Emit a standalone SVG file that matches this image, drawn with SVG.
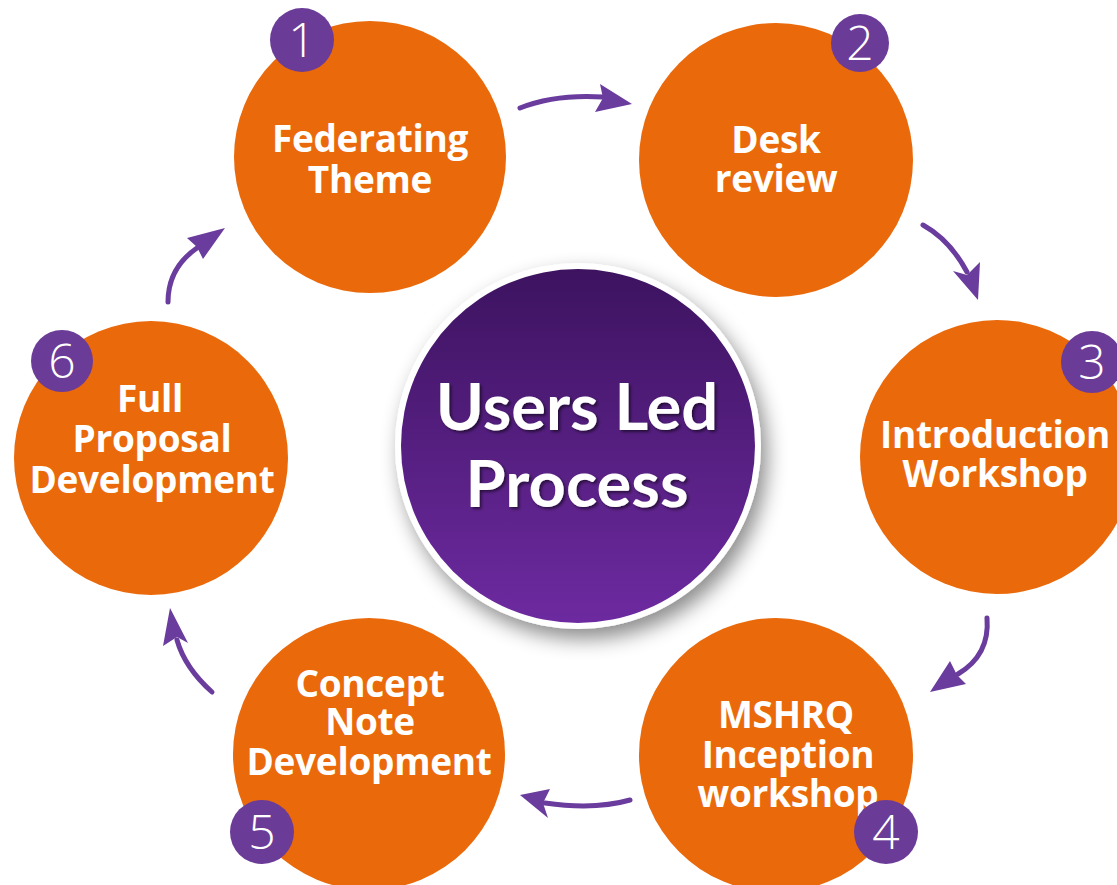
<svg xmlns="http://www.w3.org/2000/svg" width="1117" height="885" viewBox="0 0 1117 885">
  <style>
    .step { fill: #ea690b; }
    .badge { fill: #6b3b98; }
    .num { font-family: "Open Sans", "Noto Sans", sans-serif; font-weight: 300; font-size: 48px; fill: #ffffff; text-anchor: middle; }
    .label { font-family: "Open Sans", "Noto Sans", sans-serif; font-weight: 700; font-size: 37px; fill: #ffffff; text-anchor: middle; letter-spacing: -0.3px; }
    .title { font-family: Lato, "Open Sans", sans-serif; font-weight: 700; font-size: 65px; fill: #ffffff; text-anchor: middle; }
    .shaft { fill: none; stroke: #6a3c9d; stroke-width: 5; stroke-linecap: round; }
    .head { fill: #6a3c9d; }
  </style>
  <defs>
    <linearGradient id="hubFill" x1="0" y1="0" x2="0" y2="1">
      <stop offset="0" stop-color="#3d1360"/>
      <stop offset="1" stop-color="#6d2aa0"/>
    </linearGradient>
    <filter id="hubShadow" x="-30%" y="-30%" width="160%" height="160%">
      <feDropShadow dx="6" dy="10" stdDeviation="10" flood-color="#000000" flood-opacity="0.45"/>
    </filter>
    <filter id="textShadow" x="-10%" y="-20%" width="120%" height="140%">
      <feDropShadow dx="2" dy="2" stdDeviation="1.5" flood-color="#000000" flood-opacity="0.55"/>
    </filter>
  </defs>

  <rect width="1117" height="885" fill="#ffffff"/>

  <!-- connectors between the steps -->
  <g id="connectors">
    <!-- 1 to 2 -->
    <path class="shaft" d="M520,108 Q555,94 603,97"/>
    <polygon class="head" points="632,104 595,112 603,98 600,84"/>
    <!-- 2 to 3 -->
    <path class="shaft" d="M923,225 Q950,240 967,272"/>
    <polygon class="head" points="978,300 953,271 967,275 980,262"/>
    <!-- 3 to 4 -->
    <path class="shaft" d="M987,618 Q990,655 958,674"/>
    <polygon class="head" points="930,692 950,661 957,675 966,684"/>
    <!-- 4 to 5 -->
    <path class="shaft" d="M630,800 Q595,810 545,803"/>
    <polygon class="head" points="520,795 550,789 543,803 548,818"/>
    <!-- 5 to 6 -->
    <path class="shaft" d="M212,692 Q185,668 177,640"/>
    <polygon class="head" points="170,608 188,643 177,637 163,646"/>
    <!-- 6 to 1 -->
    <path class="shaft" d="M168,302 Q168,268 197,248"/>
    <polygon class="head" points="225,228 203,259 197,247 187,238"/>
  </g>

  <!-- central hub -->
  <g id="hub">
    <circle cx="578" cy="446" r="183" fill="#ffffff" filter="url(#hubShadow)"/>
    <circle cx="578" cy="446" r="177" fill="url(#hubFill)"/>
    <text class="title" filter="url(#textShadow)" x="577" y="430">Users Led<tspan x="577" dy="77">Process</tspan></text>
  </g>

  <g id="step1">
    <circle class="step" cx="370" cy="157" r="136"/>
    <text class="label" x="370" y="152">Federating<tspan x="370" dy="41">Theme</tspan></text>
    <circle class="badge" cx="302" cy="40" r="32"/>
    <text class="num" x="302" y="57">1</text>
  </g>

  <g id="step2">
    <circle class="step" cx="776" cy="160" r="137"/>
    <text class="label" x="776" y="153">Desk<tspan x="776" dy="39">review</tspan></text>
    <circle class="badge" cx="860" cy="43" r="29"/>
    <text class="num" x="860" y="60">2</text>
  </g>

  <g id="step3">
    <circle class="step" cx="997" cy="457" r="137"/>
    <text class="label" x="995" y="448">Introduction<tspan x="995" dy="39">Workshop</tspan></text>
    <circle class="badge" cx="1092" cy="362" r="31"/>
    <text class="num" x="1092" y="379">3</text>
  </g>

  <g id="step4">
    <circle class="step" cx="776" cy="755" r="137"/>
    <text class="label" x="786" y="728">MSHRQ<tspan x="788" dy="40">Inception</tspan><tspan x="788" dy="39">workshop</tspan></text>
    <circle class="badge" cx="886" cy="832" r="32"/>
    <text class="num" x="886" y="849">4</text>
  </g>

  <g id="step5">
    <circle class="step" cx="369" cy="754" r="136"/>
    <text class="label" x="370" y="697">Concept<tspan x="370" dy="38">Note</tspan><tspan x="369" dy="40">Development</tspan></text>
    <circle class="badge" cx="262" cy="832" r="32"/>
    <text class="num" x="262" y="849">5</text>
  </g>

  <g id="step6">
    <circle class="step" cx="151" cy="458" r="137"/>
    <text class="label" x="150" y="412">Full<tspan x="152" dy="40">Proposal</tspan><tspan x="152" dy="41">Development</tspan></text>
    <circle class="badge" cx="62" cy="361" r="31"/>
    <text class="num" x="62" y="378">6</text>
  </g>
</svg>
